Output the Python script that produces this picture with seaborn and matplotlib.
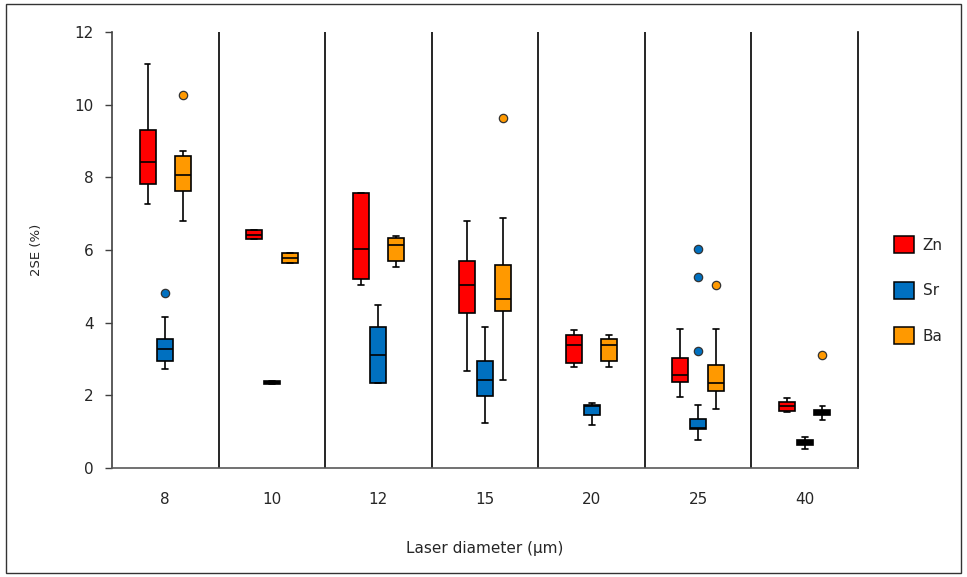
import numpy as np
import pandas as pd
import matplotlib
matplotlib.use("Agg")
import matplotlib.pyplot as plt
from matplotlib.patches import Patch, Rectangle
import seaborn as sns

# ---------------- data ----------------
categories = ["8", "10", "12", "15", "20", "25", "40"]
elements = ["Zn", "Sr", "Ba"]
colors = {"Zn": "#FF0000", "Sr": "#0070C0", "Ba": "#FF9900"}

# five-number summaries per category: (whisker low, Q1, median, Q3, whisker high)
zn_stats = [(7.26, 7.83, 8.41, 9.30, 11.12),
            (6.30, 6.30, 6.42, 6.54, 6.54),
            (5.05, 5.21, 6.03, 7.58, 7.58),
            (2.68, 4.27, 5.05, 5.70, 6.80),
            (2.79, 2.89, 3.39, 3.66, 3.81),
            (1.95, 2.38, 2.56, 3.02, 3.83),
            (1.55, 1.58, 1.71, 1.83, 1.92)]
sr_stats = [(2.73, 2.94, 3.27, 3.56, 4.16),
            (2.31, 2.31, 2.35, 2.39, 2.39),
            (2.34, 2.34, 3.11, 3.88, 4.50),
            (1.23, 1.99, 2.41, 2.95, 3.88),
            (1.19, 1.46, 1.72, 1.74, 1.78),
            (0.77, 1.07, 1.09, 1.35, 1.74),
            (0.52, 0.62, 0.70, 0.77, 0.86)]
ba_stats = [(6.80, 7.62, 8.07, 8.58, 8.73),
            (5.65, 5.65, 5.79, 5.93, 5.93),
            (5.54, 5.69, 6.14, 6.32, 6.38),
            (2.42, 4.31, 4.65, 5.60, 6.87),
            (2.79, 2.94, 3.38, 3.55, 3.66),
            (1.62, 2.11, 2.34, 2.84, 3.83),
            (1.33, 1.45, 1.53, 1.61, 1.70)]

# outliers per category
zn_outliers = [[], [], [], [], [], [], []]
sr_outliers = [[4.82], [], [], [], [], [3.23, 5.26, 6.03], []]
ba_outliers = [[10.27], [], [], [9.62], [], [5.05], [3.12]]

# boxes that are drawn filled in black in the reference
black_boxes = [("10", "Sr"), ("40", "Sr"), ("40", "Ba")]

yticks = [0, 2, 4, 6, 8, 10, 12]
xlabel = "Laser diameter (\u00b5m)"
ylabel = "2SE (%)"


def sample_for(stats, outliers):
    """Build a sample whose boxplot statistics equal the given summary."""
    lo, q1, med, q3, hi = stats
    k = len(outliers) + 1
    vals = [lo] + [q1] * k + [med] * k + [q3] * k + [hi] + sorted(outliers)
    return vals


rows = []
for el, st_list, out_list in [("Zn", zn_stats, zn_outliers),
                              ("Sr", sr_stats, sr_outliers),
                              ("Ba", ba_stats, ba_outliers)]:
    for cat, st, out in zip(categories, st_list, out_list):
        for v in sample_for(st, out):
            rows.append({"diameter": cat, "element": el, "value": v})
df = pd.DataFrame(rows)

# ---------------- figure ----------------
sns.set_theme(style="white")
plt.rcParams["font.family"] = ["DejaVu Sans"]
txt = "#262626"

fig = plt.figure(figsize=(9.67, 5.77), dpi=100)
ax = fig.add_axes([112 / 967, (577 - 468) / 577, 746 / 967, 436 / 577])

sns.boxplot(data=df, x="diameter", y="value", hue="element",
            order=categories, hue_order=elements, palette=colors,
            saturation=1, width=0.5, gap=0.1, whis=1.5, linewidth=1.2,
            linecolor="black", fliersize=6, capwidths=0.055,
            flierprops=dict(marker="o", markeredgecolor="#333333",
                            markeredgewidth=0.9),
            legend=False, ax=ax)

# colour boxes / fliers by hue
def hue_of(x):
    idx = int(round(x))
    off = x - idx
    if off < -0.08:
        return idx, "Zn"
    if off > 0.08:
        return idx, "Ba"
    return idx, "Sr"

for p in ax.patches:
    v = p.get_path().vertices
    xc = (v[:, 0].min() + v[:, 0].max()) / 2
    idx, el = hue_of(xc)
    if (categories[idx], el) in black_boxes:
        p.set_facecolor("black")

for ln in ax.lines:
    if ln.get_marker() == "o" and len(ln.get_xdata()) > 0:
        idx, el = hue_of(float(ln.get_xdata()[0]))
        ln.set_markerfacecolor(colors[el])

# separators between groups
for i in range(len(categories) - 1):
    ax.axvline(i + 0.5, color="black", lw=1.2, zorder=0)

ax.set_xlim(-0.5, len(categories) - 0.5)
ax.set_ylim(0, 12)
ax.set_yticks(yticks)
ax.set_yticklabels([str(t) for t in yticks])
ax.tick_params(axis="y", direction="out", length=5, width=1, color="#404040",
               labelsize=11, labelcolor=txt, pad=8, left=True)
ax.tick_params(axis="x", length=0, labelsize=11, labelcolor=txt, pad=17)

for s in ["left", "bottom", "right"]:
    ax.spines[s].set_visible(True)
    ax.spines[s].set_linewidth(1.2)
ax.spines["left"].set_color("#404040")
ax.spines["right"].set_color("black")
ax.spines["bottom"].set_color("#595959")
ax.spines["top"].set_visible(False)

ax.set_xlabel(xlabel, fontsize=11, color=txt, labelpad=25)
ax.set_ylabel(ylabel, fontsize=9.5, color=txt, labelpad=23)

handles = [Patch(facecolor=colors[e], edgecolor="black", linewidth=1.1, label=e)
           for e in elements]
ax.legend(handles=handles, loc="center left", bbox_to_anchor=(0.91, 0.497),
          bbox_transform=fig.transFigure, frameon=False, fontsize=11,
          handlelength=1.35, handleheight=1.35, labelspacing=1.85,
          handletextpad=0.55, labelcolor=txt)

fig.patches.append(Rectangle((6 / 967, 4 / 577), 955 / 967, 569 / 577,
                             transform=fig.transFigure, fill=False,
                             edgecolor="#333333", lw=1.0))

fig.savefig("out.png", dpi=100)
